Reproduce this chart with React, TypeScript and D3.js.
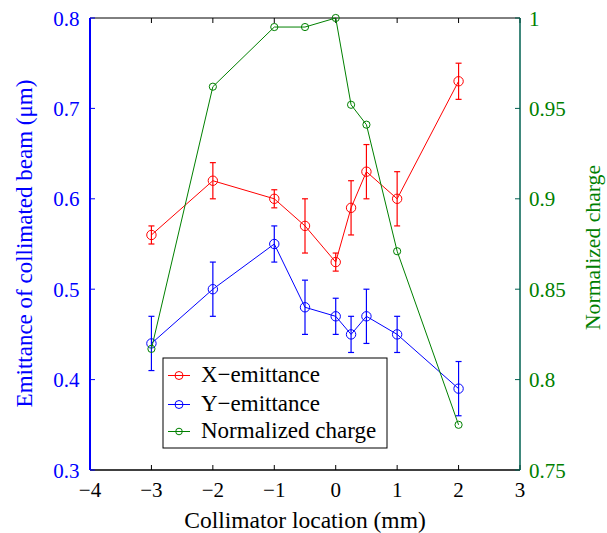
import React from "react";
import * as d3 from "d3";

const positions = [-3, -2, -1, -0.5, 0, 0.25, 0.5, 1, 2];
const xEmittance = [0.56, 0.62, 0.60, 0.57, 0.53, 0.59, 0.63, 0.60, 0.73];
const xError = [0.01, 0.02, 0.01, 0.03, 0.01, 0.03, 0.03, 0.03, 0.02];
const yEmittance = [0.44, 0.50, 0.55, 0.48, 0.47, 0.45, 0.47, 0.45, 0.39];
const yError = [0.03, 0.03, 0.02, 0.03, 0.02, 0.02, 0.03, 0.02, 0.03];
const charge = [0.817, 0.962, 0.995, 0.995, 1.0, 0.952, 0.941, 0.871, 0.775];

const xTicks = [-4, -3, -2, -1, 0, 1, 2, 3];
const leftTicks = [0.3, 0.4, 0.5, 0.6, 0.7, 0.8];
const rightTicks = [0.75, 0.8, 0.85, 0.9, 0.95, 1];
const legendLabels = ["X\u2212emittance", "Y\u2212emittance", "Normalized charge"];

const RED = "#ff0000";
const BLUE = "#0000ff";
const GREEN = "#008000";
const FONT = "'Liberation Serif', 'Times New Roman', serif";

export default function App() {
  const W = 607, H = 533;
  const L = 90, R = 520, T = 18, B = 470;
  const x = d3.scaleLinear().domain([-4, 3]).range([L, R]);
  const yL = d3.scaleLinear().domain([0.3, 0.8]).range([B, T]);
  const yR = d3.scaleLinear().domain([0.75, 1]).range([B, T]);
  const fmt = (v: number) => (v < 0 ? "\u2212" + Math.abs(v) : String(v));

  const lineL = d3.line<[number, number]>().x(d => x(d[0])).y(d => yL(d[1]));
  const lineR = d3.line<[number, number]>().x(d => x(d[0])).y(d => yR(d[1]));

  const series = [
    { vals: xEmittance, err: xError, color: RED },
    { vals: yEmittance, err: yError, color: BLUE },
  ];

  const tickLen = 5;
  const tickFs = 21;
  const legendRows = [375.5, 404.5, 431.5];
  const legendColors = [RED, BLUE, GREEN];

  return (
    <svg width={W} height={H} style={{ position: "absolute", left: 0, top: 0, background: "#fff" }} fontFamily={FONT}>
      <rect x={0} y={0} width={W} height={H} fill="#fff" />
      {/* axes box */}
      <line x1={L} x2={R} y1={T} y2={T} stroke="#000" strokeWidth={1} />
      <line x1={L} x2={R} y1={B} y2={B} stroke="#000" strokeWidth={1.5} />
      {/* x ticks */}
      {xTicks.map(t => (
        <g key={"xt" + t}>
          <line x1={x(t)} x2={x(t)} y1={B} y2={B - tickLen} stroke="#000" />
          <line x1={x(t)} x2={x(t)} y1={T} y2={T + tickLen} stroke="#000" />
          <text x={x(t)} y={497} textAnchor="middle" fontSize={tickFs} fill="#000">{fmt(t)}</text>
        </g>
      ))}
      {/* left axis */}
      <line x1={L} x2={L} y1={T} y2={B} stroke={BLUE} strokeWidth={2} />
      {leftTicks.map(t => (
        <g key={"lt" + t}>
          <line x1={L} x2={L + tickLen} y1={yL(t)} y2={yL(t)} stroke={BLUE} />
          <text x={79.5} y={yL(t) + 7.5} textAnchor="end" fontSize={tickFs} fill={BLUE}>{t}</text>
        </g>
      ))}
      {/* right axis */}
      <line x1={R} x2={R} y1={T} y2={B} stroke="#006050" strokeWidth={1.5} />
      {rightTicks.map(t => (
        <g key={"rt" + t}>
          <line x1={R} x2={R - tickLen} y1={yR(t)} y2={yR(t)} stroke="#006050" />
          <text x={529} y={yR(t) + 7.5} textAnchor="start" fontSize={tickFs} fill={GREEN}>{t}</text>
        </g>
      ))}
      {/* axis labels */}
      <text x={305} y={528} textAnchor="middle" fontSize={23.5} fill="#000">Collimator location (mm)</text>
      <text transform={`translate(32,243.5) rotate(-90)`} textAnchor="middle" fontSize={23} fill={BLUE}>
        Emittance of collimated beam (μm)
      </text>
      <text transform={`translate(600,247.5) rotate(-90)`} textAnchor="middle" fontSize={21.7} fill={GREEN}>
        Normalized charge
      </text>
      {/* emittance series */}
      {series.map((s, si) => {
        const pts = positions.map((p, i) => [p, s.vals[i]] as [number, number]);
        return (
          <g key={"s" + si}>
            <path d={lineL(pts) || ""} fill="none" stroke={s.color} strokeWidth={1} />
            {positions.map((p, i) => {
              const cx = x(p);
              const y1 = yL(s.vals[i] + s.err[i]);
              const y2 = yL(s.vals[i] - s.err[i]);
              return (
                <g key={i} stroke={s.color} strokeWidth={1.2}>
                  <line x1={cx} x2={cx} y1={y1} y2={y2} />
                  <line x1={cx - 3} x2={cx + 3} y1={y1} y2={y1} />
                  <line x1={cx - 3} x2={cx + 3} y1={y2} y2={y2} />
                  <circle cx={cx} cy={yL(s.vals[i])} r={4.7} fill="none" strokeWidth={1} />
                </g>
              );
            })}
          </g>
        );
      })}
      {/* charge series */}
      <path d={lineR(positions.map((p, i) => [p, charge[i]] as [number, number])) || ""} fill="none" stroke={GREEN} strokeWidth={1} />
      {positions.map((p, i) => (
        <circle key={"c" + i} cx={x(p)} cy={yR(charge[i])} r={3.6} fill="none" stroke={GREEN} strokeWidth={1} />
      ))}
      {/* legend */}
      <rect x={163} y={358} width={224} height={90} fill="#fff" stroke="#000" strokeWidth={1} />
      {legendLabels.map((lab, i) => (
        <g key={"lg" + i}>
          <line x1={168} x2={190} y1={legendRows[i]} y2={legendRows[i]} stroke={legendColors[i]} strokeWidth={1} />
          <circle cx={179} cy={legendRows[i]} r={i === 2 ? 3.3 : 4} fill="none" stroke={legendColors[i]} strokeWidth={1} />
          <text x={201} y={legendRows[i] + 6.5} fontSize={23} fill="#000">{lab}</text>
        </g>
      ))}
    </svg>
  );
}
